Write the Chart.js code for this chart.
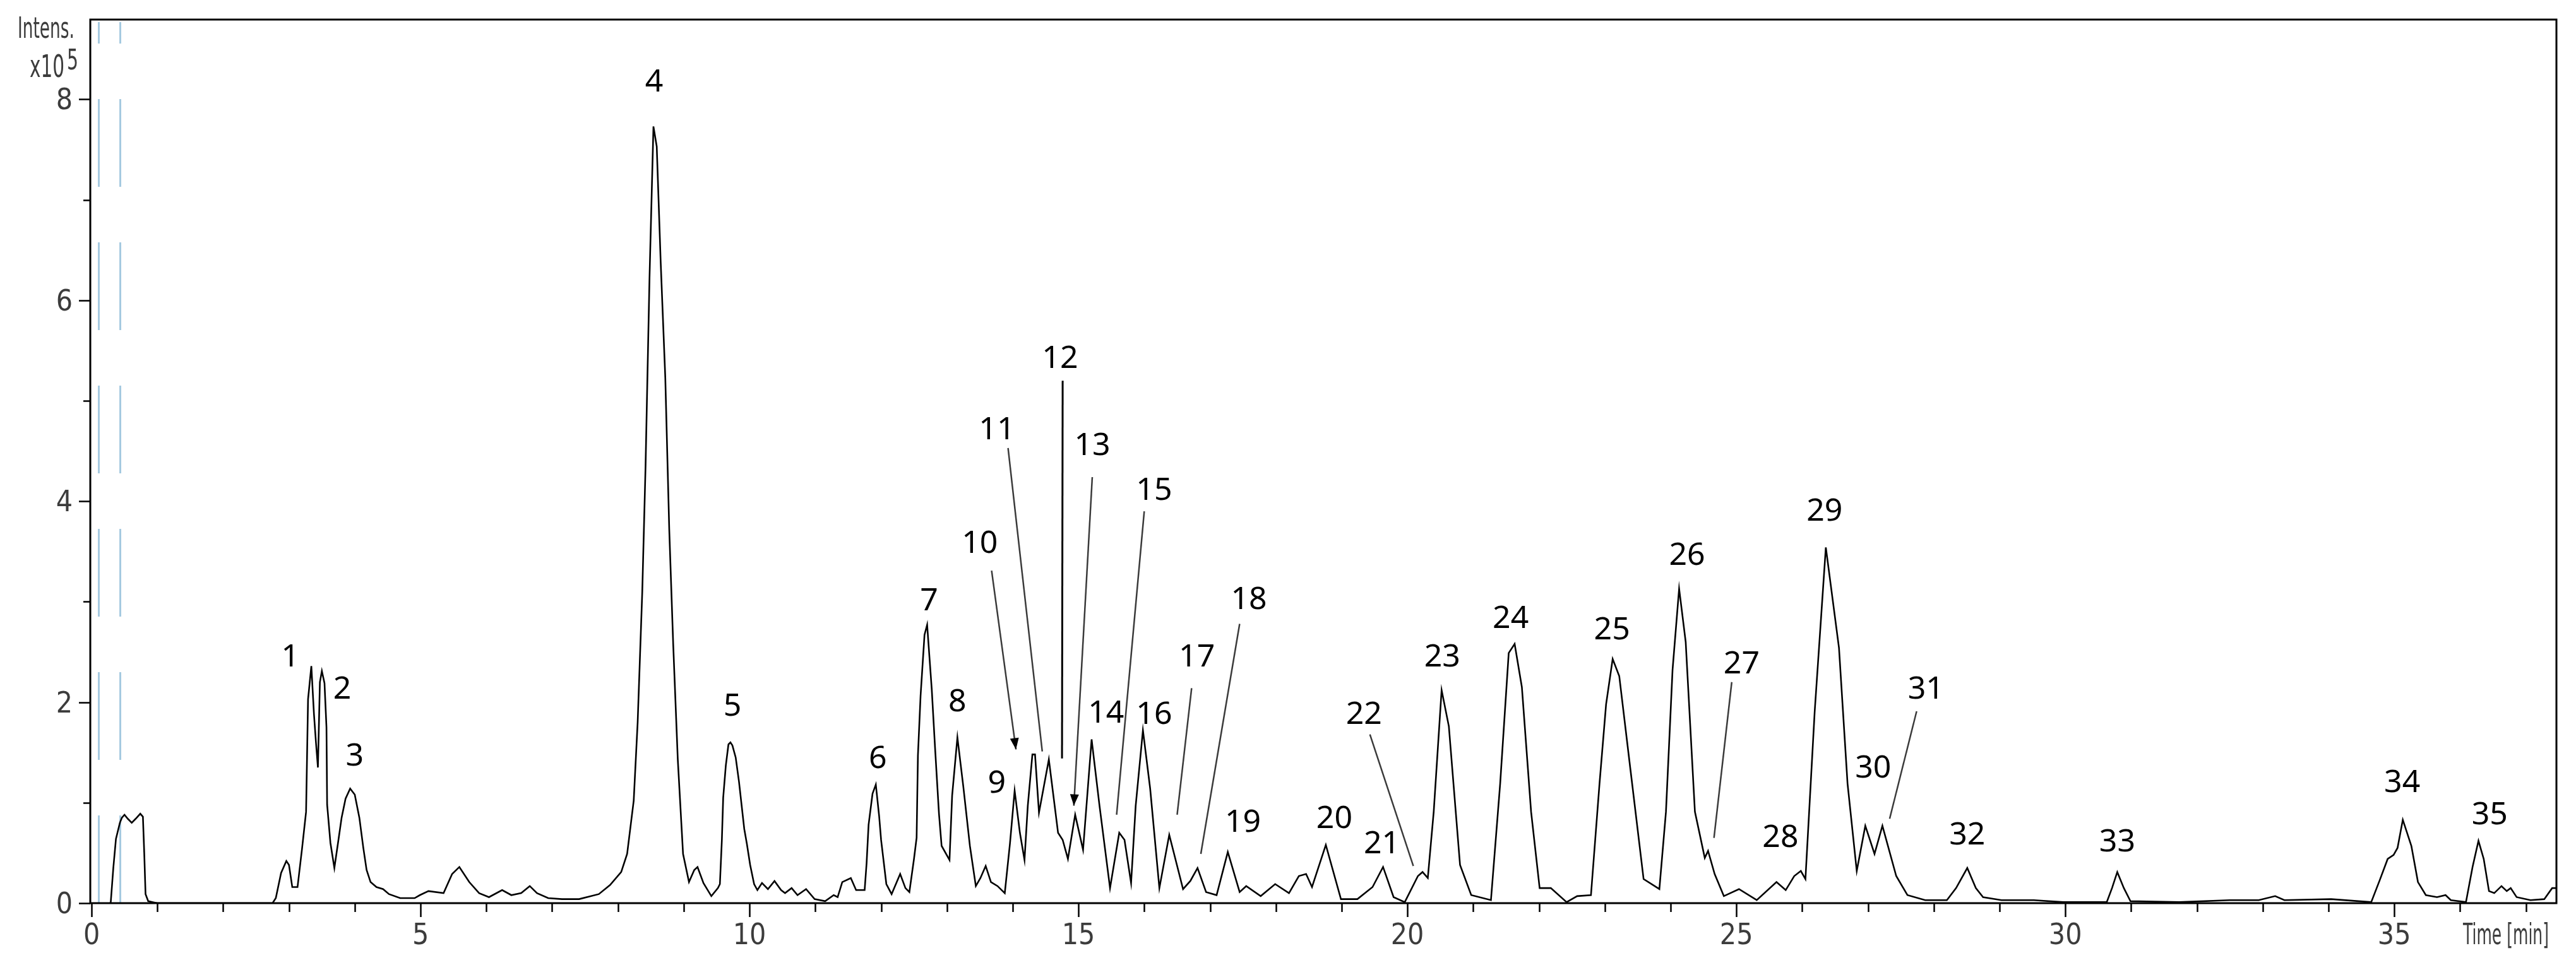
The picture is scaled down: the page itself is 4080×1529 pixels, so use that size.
<!DOCTYPE html>
<html>
<head>
<meta charset="utf-8">
<script src="https://cdn.jsdelivr.net/npm/chart.js@4.4.1/dist/chart.umd.min.js"></script>
<style>
  html, body { margin: 0; padding: 0; background: #fff; }
  canvas { display: block; }
</style>
</head>
<body>
<canvas id="chrom" width="4080" height="1529"></canvas>
<script>
// retention time (min) and intensity (x10^5)
const times = [
  0.27, 0.29, 0.33, 0.37, 0.43, 0.46, 0.50, 0.55, 0.61, 0.67, 0.74, 0.78, 0.80, 0.82, 0.86, 0.93, 1.00,
  2.75, 2.80, 2.88, 2.96, 3.00, 3.05, 3.13, 3.20, 3.26, 3.29, 3.34, 3.38, 3.41, 3.44, 3.47, 3.50, 3.54,
  3.57, 3.58, 3.63, 3.69, 3.75, 3.80, 3.86, 3.93, 4.00, 4.07, 4.13, 4.18, 4.24, 4.33, 4.43, 4.52, 4.69,
  4.91, 4.99, 5.12, 5.35, 5.48, 5.59, 5.74, 5.89, 6.04, 6.24, 6.38, 6.53, 6.66, 6.77, 6.94, 7.15, 7.41,
  7.71, 7.88, 8.05, 8.14, 8.24, 8.30, 8.37, 8.42, 8.48, 8.54, 8.59, 8.65, 8.72, 8.78, 8.84, 8.91, 8.99,
  9.08, 9.16, 9.21, 9.30, 9.42, 9.52, 9.55, 9.58, 9.60, 9.64, 9.68, 9.71, 9.74, 9.79, 9.84, 9.92, 9.96,
  10.01, 10.07, 10.12, 10.19, 10.28, 10.38, 10.48, 10.54, 10.64, 10.73, 10.86, 10.99, 11.15, 11.28, 11.34,
  11.41, 11.54, 11.62, 11.75, 11.78, 11.81, 11.87, 11.92, 11.97, 12.00, 12.08, 12.16, 12.29, 12.37, 12.43,
  12.50, 12.54, 12.56, 12.60, 12.66, 12.70, 12.77, 12.82, 12.88, 12.92, 13.04, 13.08, 13.16, 13.25, 13.35,
  13.44, 13.51, 13.59, 13.67, 13.77, 13.88, 13.96, 14.03, 14.11, 14.18, 14.23, 14.30, 14.34, 14.40, 14.55,
  14.69, 14.76, 14.84, 14.95, 15.07, 15.20, 15.32, 15.48, 15.62, 15.70, 15.80, 15.87, 15.98, 16.09, 16.23,
  16.38, 16.59, 16.70, 16.81, 16.94, 17.10, 17.27, 17.45, 17.55, 17.77, 17.99, 18.20, 18.35, 18.46, 18.55,
  18.76, 18.99, 19.24, 19.47, 19.63, 19.79, 19.96, 20.16, 20.23, 20.31, 20.40, 20.52, 20.63, 20.80, 20.97,
  21.27, 21.41, 21.54, 21.63, 21.74, 21.88, 22.01, 22.18, 22.42, 22.58, 22.79, 22.92, 23.02, 23.12, 23.22,
  23.39, 23.59, 23.83, 23.93, 24.03, 24.13, 24.23, 24.37, 24.52, 24.57, 24.67, 24.81, 25.04, 25.31, 25.61,
  25.75, 25.88, 25.98, 26.05, 26.19, 26.36, 26.56, 26.69, 26.83, 26.96, 27.10, 27.22, 27.43, 27.60, 27.87,
  28.20, 28.34, 28.51, 28.64, 28.75, 29.03, 29.52, 29.97, 30.63, 30.71, 30.79, 30.89, 30.99, 31.73, 32.50,
  32.94, 33.19, 33.33, 34.04, 34.65, 34.78, 34.90, 34.99, 35.05, 35.13, 35.26, 35.36, 35.48, 35.65, 35.78,
  35.86, 36.09, 36.19, 36.28, 36.36, 36.44, 36.52, 36.63, 36.71, 36.77, 36.86, 37.07, 37.28, 37.40, 37.47
];
const intens = [
  0.00, 0.00, 0.35, 0.64, 0.80, 0.85, 0.88, 0.84, 0.80, 0.84, 0.89, 0.86, 0.50, 0.09, 0.02, 0.01, 0.00,
  0.00, 0.05, 0.30, 0.42, 0.38, 0.16, 0.16, 0.55, 0.91, 2.03, 2.36, 1.88, 1.60, 1.35, 2.20, 2.31, 2.19,
  1.75, 0.98, 0.60, 0.35, 0.62, 0.85, 1.04, 1.14, 1.08, 0.85, 0.55, 0.33, 0.21, 0.16, 0.14, 0.09, 0.05,
  0.05, 0.08, 0.12, 0.10, 0.29, 0.36, 0.21, 0.10, 0.06, 0.13, 0.08, 0.10, 0.17, 0.10, 0.05, 0.04, 0.04,
  0.09, 0.18, 0.31, 0.49, 1.02, 1.80, 3.10, 4.35, 6.22, 7.73, 7.53, 6.38, 5.23, 3.72, 2.58, 1.43, 0.49,
  0.21, 0.33, 0.36, 0.20, 0.07, 0.15, 0.19, 0.63, 1.05, 1.37, 1.58, 1.60, 1.57, 1.45, 1.21, 0.74, 0.59,
  0.38, 0.19, 0.13, 0.20, 0.14, 0.22, 0.13, 0.10, 0.15, 0.08, 0.14, 0.04, 0.02, 0.08, 0.06,
  0.21, 0.25, 0.13, 0.13, 0.40, 0.78, 1.09, 1.18, 0.87, 0.63, 0.19, 0.09, 0.29, 0.15, 0.11,
  0.44, 0.65, 1.47, 2.06, 2.67, 2.77, 2.13, 1.55, 0.89, 0.57, 0.43, 1.07, 1.65, 1.16, 0.57,
  0.17, 0.25, 0.37, 0.21, 0.17, 0.10, 0.60, 1.12, 0.70, 0.43, 0.97, 1.48, 1.48, 0.90, 1.43,
  0.70, 0.63, 0.44, 0.88, 0.53, 1.63, 0.97, 0.15, 0.70, 0.63, 0.20, 0.97, 1.72, 1.14, 0.15,
  0.68, 0.14, 0.22, 0.35, 0.11, 0.08, 0.51, 0.11, 0.17, 0.07, 0.19, 0.10, 0.27, 0.29, 0.16,
  0.58, 0.04, 0.04, 0.16, 0.36, 0.06, 0.01, 0.27, 0.31, 0.25, 0.91, 2.12, 1.76, 0.38, 0.08,
  0.03, 1.19, 2.49, 2.58, 2.15, 0.91, 0.15, 0.15, 0.01, 0.07, 0.08, 1.19, 1.98, 2.43, 2.26,
  1.33, 0.24, 0.14, 0.91, 2.32, 3.13, 2.60, 0.91, 0.45, 0.52, 0.29, 0.07, 0.14, 0.03, 0.21,
  0.13, 0.27, 0.32, 0.24, 1.90, 3.54, 2.54, 1.19, 0.32, 0.77, 0.49, 0.77, 0.27, 0.08, 0.03,
  0.03, 0.15, 0.35, 0.15, 0.06, 0.03, 0.03, 0.01, 0.01, 0.15, 0.31, 0.15, 0.02, 0.01, 0.03,
  0.03, 0.07, 0.03, 0.04, 0.01, 0.23, 0.44, 0.48, 0.55, 0.83, 0.57, 0.21, 0.08, 0.06, 0.08,
  0.03, 0.01, 0.36, 0.62, 0.44, 0.12, 0.10, 0.17, 0.12, 0.15, 0.06, 0.03, 0.04, 0.15, 0.15
];

// peak numbers and where their text sits (time, intensity)
const peakNums = ['1','2','3','4','5','6','7','8','9','10','11','12','13','14','15','16','17','18',
  '19','20','21','22','23','24','25','26','27','28','29','30','31','32','33','34','35'];
const peakLabelT = [3.02, 3.81, 4.00, 8.55, 9.74, 11.95, 12.73, 13.16, 13.76, 13.50, 13.76, 14.72, 15.21, 15.42,
  16.15, 16.15, 16.80, 17.59, 17.50, 18.89, 19.61, 19.34, 20.53, 21.57, 23.11, 24.25, 25.08, 25.67,
  26.34, 27.08, 27.88, 28.51, 30.79, 35.12, 36.45];
const peakLabelI = [2.47, 2.15, 1.48, 8.19, 1.98, 1.46, 3.03, 2.02, 1.21, 3.60, 4.73, 5.44, 4.57, 1.91,
  4.13, 1.90, 2.47, 3.04, 0.82, 0.86, 0.61, 1.90, 2.47, 2.85, 2.74, 3.48, 2.40, 0.67,
  3.92, 1.36, 2.15, 0.70, 0.63, 1.22, 0.90];

// leader lines from label to peak
const leaderNum = ['10', '11', '12', '13', '15', '17', '18', '22', '27', '31'];
const leaderT0 = [13.68, 13.93, 14.76, 15.21, 16.00, 16.72, 17.45, 19.43, 24.93, 27.74];
const leaderI0 = [3.31, 4.53, 5.20, 4.24, 3.90, 2.14, 2.78, 1.68, 2.20, 1.91];
const leaderT1 = [14.05, 14.45, 14.75, 14.93, 15.58, 16.50, 16.86, 20.09, 24.66, 27.33];
const leaderI1 = [1.53, 1.51, 1.44, 0.97, 0.88, 0.88, 0.49, 0.37, 0.65, 0.84];
const arrowHeads = ['10', '13'];

const xMajor = [0, 5, 10, 15, 20, 25, 30, 35];
const yMajor = [0, 2, 4, 6, 8];
const markerTimes = [0.10, 0.43]; // light blue dashed markers

const tickFont = '46px "Liberation Sans Narrow", "DejaVu Sans Condensed", sans-serif';
const tickColor = '#3c3c3c';

function narrowText(ctx, text, x, y, width) {
  // squeeze text horizontally into a given width, x is left edge
  const w = ctx.measureText(text).width;
  const s = Math.min(1, width / w);
  ctx.save();
  ctx.translate(x, y);
  ctx.scale(s, 1);
  ctx.textAlign = 'left';
  ctx.fillText(text, 0, 0);
  ctx.restore();
}

const decor = {
  id: 'decor',
  beforeDraw(chart) {
    const ctx = chart.ctx;
    ctx.save();
    ctx.fillStyle = '#fff';
    ctx.fillRect(0, 0, chart.width, chart.height);
    ctx.restore();
  },
  beforeDatasetsDraw(chart) {
    const {ctx, chartArea, scales: {x}} = chart;
    ctx.save();
    ctx.strokeStyle = '#a6cae0';
    ctx.lineWidth = 3;
    ctx.setLineDash([139, 88]);
    markerTimes.forEach(t => {
      const px = Math.round(x.getPixelForValue(t)) + 0.5;
      ctx.beginPath();
      ctx.moveTo(px, chartArea.bottom);
      ctx.lineTo(px, chartArea.top + 4);
      ctx.stroke();
    });
    ctx.restore();
  },
  afterDraw(chart) {
    const {ctx, chartArea: a, scales: {x, y}} = chart;
    ctx.save();

    // frame
    ctx.strokeStyle = '#000';
    ctx.lineWidth = 3;
    ctx.strokeRect(a.left, a.top, a.right - a.left, a.bottom - a.top);

    // y ticks
    ctx.lineWidth = 2.5;
    for (let v = 0; v <= 8; v++) {
      const py = Math.round(y.getPixelForValue(v)) + 0.5;
      const len = v % 2 === 0 ? 18 : 11;
      ctx.beginPath();
      ctx.moveTo(a.left - len, py);
      ctx.lineTo(a.left, py);
      ctx.stroke();
    }
    // x ticks
    for (let v = 0; v <= 37; v++) {
      const px = Math.round(x.getPixelForValue(v)) + 0.5;
      const len = v % 5 === 0 ? 22 : 14;
      ctx.beginPath();
      ctx.moveTo(px, a.bottom);
      ctx.lineTo(px, a.bottom + len);
      ctx.stroke();
    }

    // tick labels
    ctx.fillStyle = tickColor;
    ctx.font = tickFont;
    ctx.textBaseline = 'alphabetic';
    ctx.textAlign = 'right';
    yMajor.forEach(v => {
      ctx.fillText(String(v), a.left - 28, y.getPixelForValue(v) + 16);
    });
    ctx.textAlign = 'center';
    xMajor.forEach(v => {
      ctx.fillText(String(v), x.getPixelForValue(v), a.bottom + 65);
    });
    narrowText(ctx, 'Time [min]', 3901, a.bottom + 65, 136);

    // axis title
    narrowText(ctx, 'Intens.', 28, 60, 90);
    ctx.font = '50px "Liberation Sans Narrow", "DejaVu Sans Condensed", sans-serif';
    narrowText(ctx, 'x10', 47, 122, 55);
    ctx.font = '44px "Liberation Sans Narrow", "DejaVu Sans Condensed", sans-serif';
    narrowText(ctx, '5', 106, 110, 18);

    // leader lines
    leaderNum.forEach((n, i) => {
      const x0 = x.getPixelForValue(leaderT0[i]);
      const y0 = y.getPixelForValue(leaderI0[i]);
      const x1 = x.getPixelForValue(leaderT1[i]);
      const y1 = y.getPixelForValue(leaderI1[i]);
      ctx.strokeStyle = n === '12' ? '#000' : '#3a3a3a';
      ctx.lineWidth = n === '12' ? 3 : 2.5;
      ctx.beginPath();
      ctx.moveTo(x0, y0);
      ctx.lineTo(x1, y1);
      ctx.stroke();
      if (arrowHeads.includes(n)) {
        const ang = Math.atan2(y1 - y0, x1 - x0);
        ctx.fillStyle = '#000';
        ctx.beginPath();
        ctx.moveTo(x1, y1);
        ctx.lineTo(x1 - 18 * Math.cos(ang) + 7 * Math.sin(ang), y1 - 18 * Math.sin(ang) - 7 * Math.cos(ang));
        ctx.lineTo(x1 - 18 * Math.cos(ang) - 7 * Math.sin(ang), y1 - 18 * Math.sin(ang) + 7 * Math.cos(ang));
        ctx.closePath();
        ctx.fill();
      }
    });

    // peak numbers
    ctx.fillStyle = '#000';
    ctx.font = '50px "Noto Sans", "Open Sans", sans-serif';
    ctx.textAlign = 'center';
    ctx.textBaseline = 'alphabetic';
    peakNums.forEach((n, i) => {
      ctx.fillText(n, x.getPixelForValue(peakLabelT[i]), y.getPixelForValue(peakLabelI[i]) + 18);
    });

    ctx.restore();
  }
};

new Chart(document.getElementById('chrom'), {
  type: 'line',
  data: {
    datasets: [{
      label: 'Intens.',
      data: times.map((t, i) => ({x: t, y: intens[i]})),
      borderColor: '#000',
      borderWidth: 2.6,
      pointRadius: 0,
      tension: 0,
      fill: false
    }]
  },
  options: {
    responsive: false,
    devicePixelRatio: 1,
    animation: false,
    layout: { padding: { left: 143, right: 31, top: 31, bottom: 98 } },
    scales: {
      x: { type: 'linear', min: -0.02, max: 37.465, display: false },
      y: { type: 'linear', min: 0, max: 8.794, display: false }
    },
    plugins: { legend: { display: false }, tooltip: { enabled: false } }
  },
  plugins: [decor]
});
</script>
</body>
</html>
